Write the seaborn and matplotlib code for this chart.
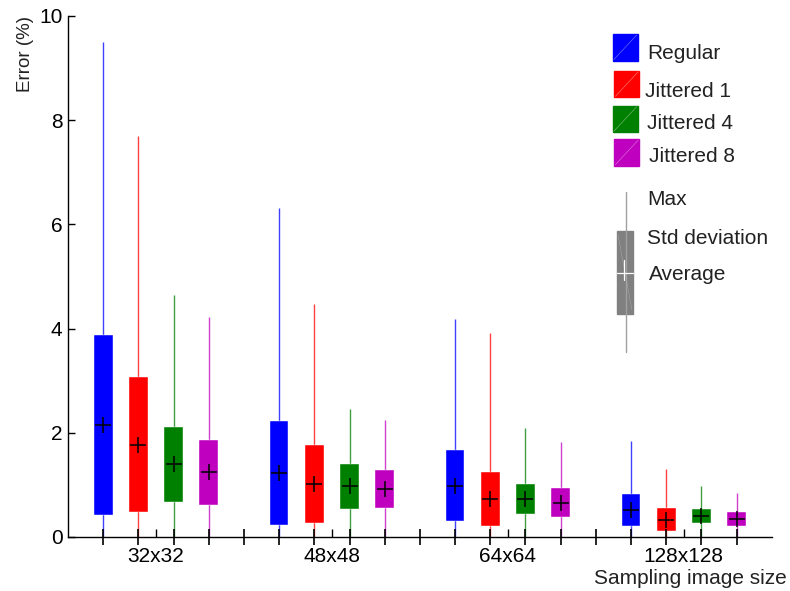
import matplotlib
matplotlib.use("Agg")
import matplotlib.pyplot as plt
from matplotlib.patches import Rectangle
import numpy as np
import pandas as pd
import seaborn as sns

sizes = ["32x32", "48x48", "64x64", "128x128"]
series = ["Regular", "Jittered 1", "Jittered 4", "Jittered 8"]
colors = ["#0000ff", "#ff0000", "#008000", "#bf00bf"]

# average error (%) for each sampling size
avg_regular = [2.15, 1.23, 0.98, 0.52]
avg_jit1 = [1.77, 1.01, 0.73, 0.33]
avg_jit4 = [1.40, 0.97, 0.73, 0.40]
avg_jit8 = [1.24, 0.92, 0.66, 0.34]

# standard deviation
std_regular = [1.73, 1.00, 0.68, 0.30]
std_jit1 = [1.30, 0.75, 0.52, 0.22]
std_jit4 = [0.72, 0.43, 0.29, 0.14]
std_jit8 = [0.62, 0.37, 0.28, 0.13]

# max error
max_regular = [9.50, 6.31, 4.18, 1.85]
max_jit1 = [7.70, 4.47, 3.92, 1.30]
max_jit4 = [4.64, 2.46, 2.09, 0.97]
max_jit8 = [4.22, 2.25, 1.82, 0.84]

min_err = [0.0, 0.0, 0.0, 0.0]

avgs = [avg_regular, avg_jit1, avg_jit4, avg_jit8]
stds = [std_regular, std_jit1, std_jit4, std_jit8]
maxs = [max_regular, max_jit1, max_jit4, max_jit8]

rows = []
for s, name in enumerate(series):
    for g, size in enumerate(sizes):
        rows.append({"series": name, "size": size, "pos": g * 5 + s,
                     "mean": avgs[s][g], "std": stds[s][g],
                     "max": maxs[s][g], "min": min_err[g]})
df = pd.DataFrame(rows)

sns.set_theme(style="white")
plt.rcParams["font.family"] = ["Liberation Sans", "DejaVu Sans"]

fig, ax = plt.subplots(figsize=(7.9, 5.91), dpi=100)
fig.subplots_adjust(left=0.0861, right=0.977, bottom=0.0914, top=0.973)

for name, color in zip(series, colors):
    d = df[df["series"] == name]
    ax.vlines(d["pos"], d["min"], d["max"], color=color, alpha=0.75, lw=1.0, zorder=1)
    ax.bar(d["pos"], 2 * d["std"], bottom=d["mean"] - d["std"], width=0.53,
           color=color, edgecolor="white", linewidth=0.3, zorder=2)

sns.scatterplot(data=df, x="pos", y="mean", marker="+", color="black", s=130,
                linewidth=1.1, legend=False, ax=ax, zorder=5)

ax.set_axisbelow(False)
ax.set_xlim(-1, 19)
ax.set_ylim(0, 10)
ax.set_yticks([0, 2, 4, 6, 8, 10])
ax.set_xticks([1.5, 6.5, 11.5, 16.5], sizes)
ax.set_xticks(np.arange(19), minor=True)
ax.tick_params(axis="x", which="major", direction="in", length=6, width=1,
               pad=7, labelsize=15, colors="black", bottom=True)
ax.tick_params(axis="x", which="minor", direction="inout", length=11, width=1.2,
               colors="black", bottom=True)
ax.tick_params(axis="y", direction="in", length=5, width=1, pad=4, labelsize=15,
               colors="black", left=True)
for sp in ["left", "bottom"]:
    ax.spines[sp].set_color("black")
    ax.spines[sp].set_linewidth(1)
sns.despine(ax=ax)

ax.set_ylabel("Error (%)", loc="top", fontsize=13.5, color="#222222")
ax.set_xlabel("Sampling image size", fontsize=15, color="#222222", ha="right", va="top")
ax.xaxis.set_label_coords(1.021, -0.061)

# custom legend drawn in a pixel-coordinate overlay
lax = fig.add_axes([600 / 790, 1 - 360 / 591, 190 / 790, 340 / 591])
lax.set_xlim(600, 790)
lax.set_ylim(360, 20)
lax.axis("off")

boxes = [(612.7, 34, 59.3, 647.7), (614.3, 70.7, 96.7, 645),
         (612.7, 105.7, 129.3, 646.7), (614.3, 139, 161.7, 649.3)]
for (bx, by, base, tx), name, color in zip(boxes, series, colors):
    lax.add_patch(Rectangle((bx, by), 25, 26.7, color=color))
    lax.plot([bx + 1, bx + 24], [by + 25.7, by + 1], color="white", lw=0.4, alpha=0.5)
    lax.text(tx, base, name, fontsize=15, va="baseline", color="#222222")

lax.plot([626, 626], [191.7, 351.7], color="#a0a0a0", lw=1.0)
lax.add_patch(Rectangle((617.3, 230.7), 15.4, 83.3, color="#808080"))
lax.plot([618, 632], [235, 310], color="#bbbbbb", lw=0.4, alpha=0.6)
lax.plot([617.3, 632.7], [272.7, 272.7], color="white", lw=0.9)
lax.plot([624.3, 624.3], [260, 280], color="white", lw=0.9)
lax.text(647.3, 205, "Max", fontsize=15, va="baseline", color="#222222")
lax.text(647, 244, "Std deviation", fontsize=15, va="baseline", color="#222222")
lax.text(649.3, 280, "Average", fontsize=15, va="baseline", color="#222222")

fig.savefig("out.png", dpi=100)
